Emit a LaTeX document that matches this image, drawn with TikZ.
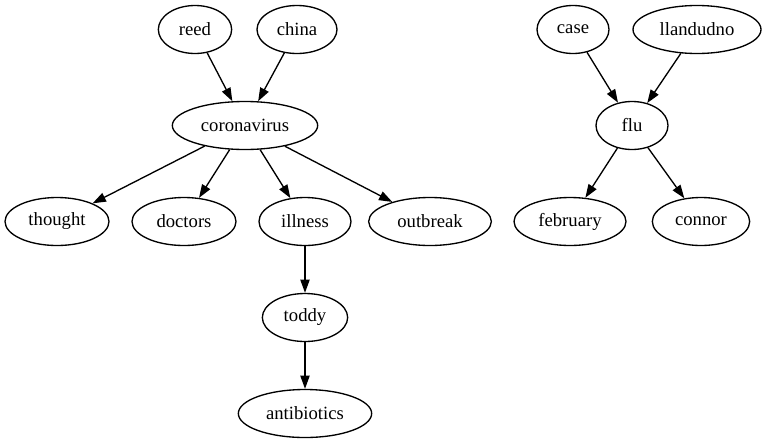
\documentclass[tikz,border=0pt]{standalone}
\usepackage{fontspec}
\setmainfont{Liberation Serif}
\usetikzlibrary{shapes.geometric,arrows.meta}
\begin{document}
\begin{tikzpicture}[x=0.75pt,y=-0.75pt,
  nd/.style={draw,ellipse,line width=1pt,inner sep=0pt,minimum height=36pt,font=\fontsize{14}{16}\selectfont},
  ed/.style={line width=1pt,-{Triangle[length=10pt,width=7pt]}}]
\useasboundingbox (0,0) rectangle (766,443);
\node[nd,minimum width=55pt] (reed) at (195,29.5) {reed};
\node[nd,minimum width=60pt] (china) at (297,29.5) {china};
\node[nd,minimum width=109pt] (corona) at (245,125.5) {coronavirus};
\node[nd,minimum width=78pt] (thought) at (57,221.5) {thought};
\node[nd,minimum width=78pt] (doctors) at (184,221.5) {doctors};
\node[nd,minimum width=69pt] (illness) at (305,221.5) {illness};
\node[nd,minimum width=92pt] (outbreak) at (430,221.5) {outbreak};
\node[nd,minimum width=64pt] (toddy) at (305,317.5) {toddy};
\node[nd,minimum width=100pt] (antib) at (305,413.5) {antibiotics};
\node[nd,minimum width=54pt] (case) at (573,29.5) {case};
\node[nd,minimum width=96pt] (lland) at (697,29.5) {llandudno};
\node[nd,minimum width=54pt] (flu) at (632,125.5) {flu};
\node[nd,minimum width=84pt] (feb) at (570,221.5) {february};
\node[nd,minimum width=73pt] (connor) at (701,221.5) {connor};
\draw[ed] (reed) -- (corona);
\draw[ed] (china) -- (corona);
\draw[ed] (corona) -- (thought);
\draw[ed] (corona) -- (doctors);
\draw[ed] (corona) -- (illness);
\draw[ed] (corona) -- (outbreak);
\draw[ed] (illness) -- (toddy);
\draw[ed] (toddy) -- (antib);
\draw[ed] (case) -- (flu);
\draw[ed] (lland) -- (flu);
\draw[ed] (flu) -- (feb);
\draw[ed] (flu) -- (connor);
\end{tikzpicture}
\end{document}
